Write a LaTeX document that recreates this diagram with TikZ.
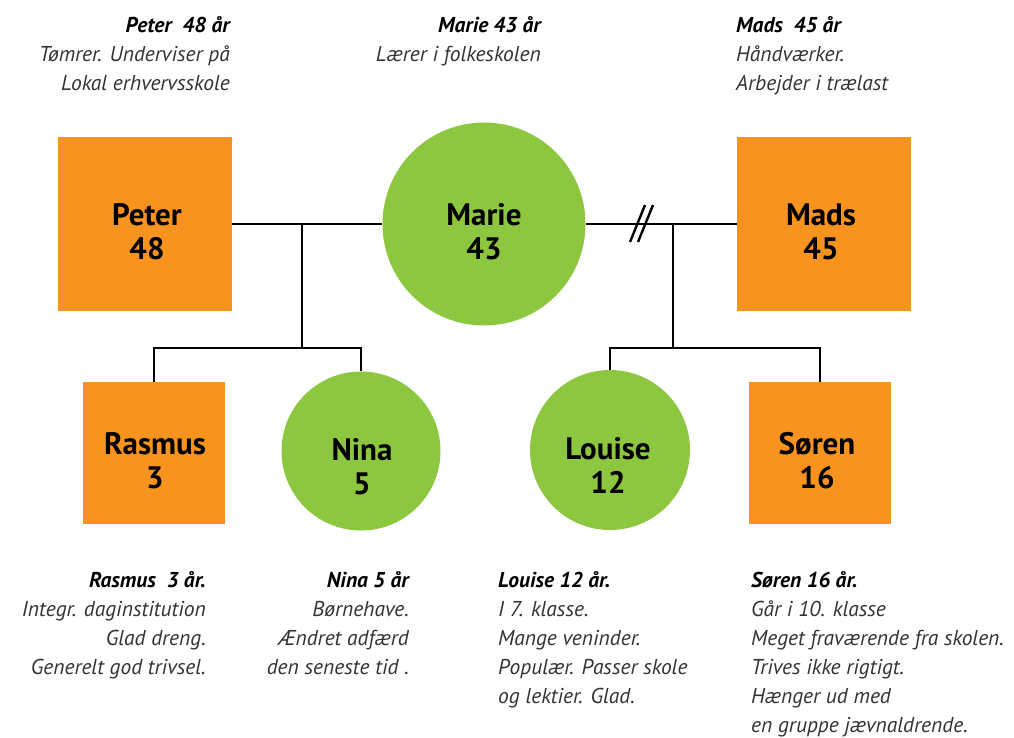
\documentclass[tikz,border=0pt]{standalone}
\usepackage{fontspec}
\setmainfont{PT Sans}
\definecolor{orng}{HTML}{F7931E}
\definecolor{grn}{HTML}{8DC63F}
\newcommand\hdr[1]{{\bfseries\color{black}#1}}
\begin{document}
\begin{tikzpicture}[x=1pt,y=-1pt,
  sq/.style={fill=orng, minimum size=#1, inner sep=0pt, draw=none},
  circ/.style={circle, fill=grn, minimum size=#1, inner sep=0pt, draw=none},
  lbl/.style={font=\fontsize{31}{34}\selectfont\bfseries, align=center, inner sep=0pt},
  info/.style={font=\fontsize{21.5}{29}\selectfont\itshape, text=black!80, inner sep=0pt},
  conn/.style={line width=2.5pt, line cap=butt}]
\useasboundingbox (0,0) rectangle (1014,737);
% people
\node[sq=174] (peter) at (145,224) {};
\node[circ=203] (marie) at (484,224) {};
\node[sq=174] (mads) at (824,224) {};
\node[sq=142] (rasmus) at (154,453) {};
\node[circ=159] (nina) at (361,451) {};
\node[circ=160] (louise) at (610,450) {};
\node[sq=142] (soren) at (820,453) {};
% labels
\node[lbl] (lpeter) at (147,232) {Peter\\48};
\node[lbl] (lmarie) at (484,232) {Marie\\43};
\node[lbl] (lmads) at (821,232) {Mads\\45};
\node[lbl] (lrasmus) at (155,461) {Rasmus\\3};
\node[lbl] (lnina) at (362,467) {Nina\\5};
\node[lbl] (llouise) at (608,465) {Louise\\12};
\node[lbl] (lsoren) at (817,461) {Søren\\16};
% connectors
\coordinate (j1) at (302,224);
\coordinate (b1) at (302,348);
\coordinate (j2) at (673,224);
\coordinate (b2) at (673,348);
\draw[conn] (peter.east) -- (marie.west);
\draw[conn] (marie.east) -- (mads.west);
\draw[conn] (j1) -- (b1);
\draw[conn] (rasmus.north) |- (b1) -| (nina.north);
\draw[conn] (j2) -- (b2);
\draw[conn] (louise.north) |- (b2) -| (soren.north);
% divorce marks
\coordinate (d1a) at (630,242); \coordinate (d1b) at (645,205);
\coordinate (d2a) at (638,242); \coordinate (d2b) at (653,205);
\draw[line width=2.4pt] (d1a) -- (d1b);
\draw[line width=2.4pt] (d2a) -- (d2b);
% info texts (base anchor = baseline of last line)
\node[info, anchor=base east, align=right] (ipeter) at (230,90)
  {\hdr{Peter\ \ 48 år}\\Tømrer. Underviser på\\Lokal erhvervsskole};
\node[info, anchor=base east, align=right] (imarie) at (541,61)
  {\hdr{Marie 43 år}\\Lærer i folkeskolen};
\node[info, anchor=base west, align=left] (imads) at (736,90)
  {\hdr{Mads\ \ 45 år}\\Håndværker.\\Arbejder i trælast};
\node[info, anchor=base east, align=right] (irasmus) at (206,674)
  {\hdr{Rasmus\ \ 3 år.}\\Integr. daginstitution\\Glad dreng.\\Generelt god trivsel.};
\node[info, anchor=base east, align=right] (inina) at (409,674)
  {\hdr{Nina 5 år}\\Børnehave.\\Ændret adfærd\\den seneste tid .};
\node[info, anchor=base west, align=left] (ilouise) at (498,703)
  {\hdr{Louise 12 år.}\\I 7. klasse.\\Mange veninder.\\Populær. Passer skole\\og lektier. Glad.};
\node[info, anchor=base west, align=left] (isoren) at (751,732)
  {\hdr{Søren 16 år.}\\Går i 10. klasse\\Meget fraværende fra skolen.\\Trives ikke rigtigt.\\Hænger ud med\\en gruppe jævnaldrende.};
\end{tikzpicture}
\end{document}
